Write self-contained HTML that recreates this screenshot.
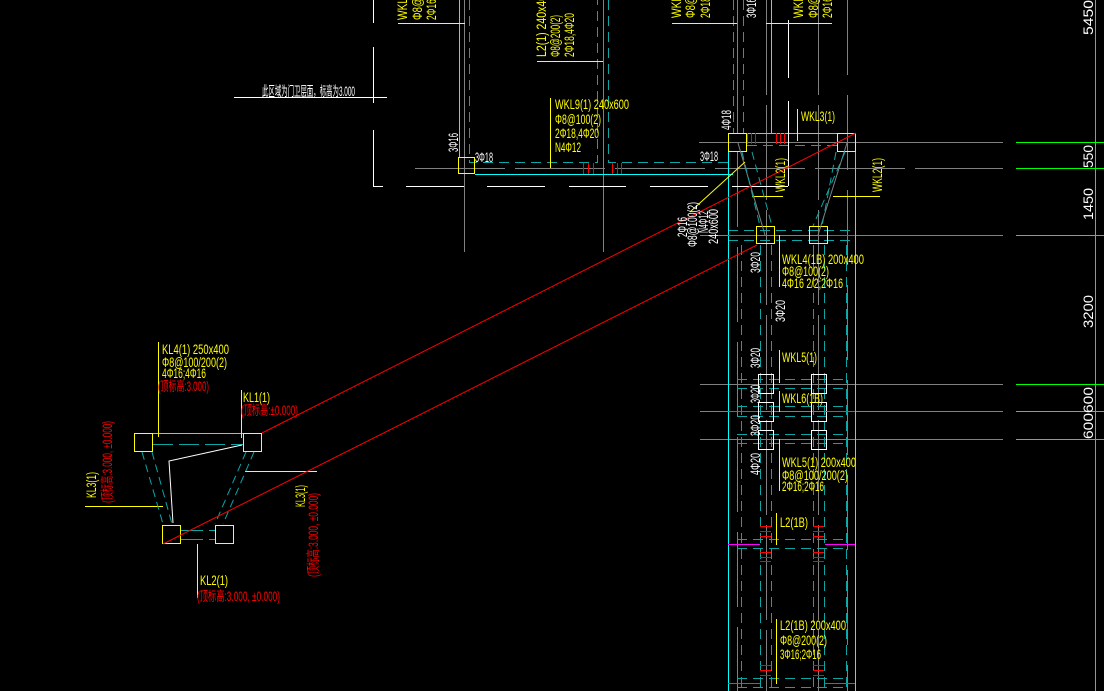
<!DOCTYPE html>
<html><head><meta charset="utf-8">
<style>
html,body{margin:0;padding:0;background:#000;overflow:hidden;}
svg{display:block;}
text{font-family:"Liberation Sans","Noto Sans CJK SC",sans-serif;font-size:13.5px;}
.y{fill:#ffff00}.w{fill:#fff}.r{fill:#ff0000}
</style></head><body>
<svg width="1104" height="691" viewBox="0 0 1104 691" xmlns="http://www.w3.org/2000/svg">
<rect width="1104" height="691" fill="#000"/>
<g fill="none" stroke-width="1" shape-rendering="crispEdges">
<!-- gray lines -->
<g stroke="#808080">
<line x1="464.5" y1="0" x2="464.5" y2="252"/>
<line x1="603.5" y1="0" x2="603.5" y2="252"/>
<line x1="737.5" y1="0" x2="737.5" y2="133"/>
<line x1="766.5" y1="0" x2="766.5" y2="691" stroke-dasharray="95,10"/>
<line x1="818.5" y1="0" x2="818.5" y2="691" stroke-dasharray="95,10"/>
<line x1="737.5" y1="152" x2="737.5" y2="691" stroke-dasharray="75,20"/>
<line x1="847.5" y1="0" x2="847.5" y2="691" stroke-dasharray="75,20"/>
<line x1="699" y1="142.5" x2="1003" y2="142.5"/>
<line x1="415" y1="168.5" x2="1003" y2="168.5" stroke-dasharray="90,10"/>
<line x1="700" y1="235.5" x2="1003" y2="235.5"/>
<line x1="700" y1="384.5" x2="1003" y2="384.5"/>
<line x1="700" y1="411.5" x2="1003" y2="411.5"/>
<line x1="700" y1="439.5" x2="1003" y2="439.5"/>
</g>
<!-- green -->
<g stroke="#00ff00">
<line x1="1095.5" y1="0" x2="1095.5" y2="691"/>
<line x1="1016" y1="142.5" x2="1104" y2="142.5"/>
<line x1="1016" y1="168.5" x2="1104" y2="168.5"/>
<line x1="1016" y1="235.5" x2="1104" y2="235.5"/>
<line x1="1016" y1="384.5" x2="1104" y2="384.5"/>
<line x1="1016" y1="411.5" x2="1104" y2="411.5"/>
<line x1="1016" y1="439.5" x2="1104" y2="439.5"/>
</g>
<!-- teal dashed -->
<g stroke="#0aa6a6" stroke-dasharray="10,6">
<polyline points="469.5,0 469.5,162.5 597.5,162.5 597.5,0"/>
<polyline points="608.5,0 608.5,162.5 728,162.5"/>
<line x1="733.5" y1="0" x2="733.5" y2="133"/>
<line x1="743.5" y1="0" x2="743.5" y2="133"/>
<line x1="747" y1="145.5" x2="837" y2="145.5"/>
<line x1="760.5" y1="245" x2="760.5" y2="691"/>
<line x1="771.5" y1="245" x2="771.5" y2="691"/>
<line x1="813.5" y1="245" x2="813.5" y2="691"/>
<line x1="824.5" y1="245" x2="824.5" y2="691"/>
<line x1="741.5" y1="245" x2="741.5" y2="691"/>
<line x1="846.5" y1="245" x2="846.5" y2="691"/>
<line x1="728" y1="230.5" x2="855" y2="230.5"/>
<line x1="728" y1="240.5" x2="855" y2="240.5"/>
<line x1="737" y1="379.5" x2="846" y2="379.5"/>
<line x1="737" y1="388.5" x2="846" y2="388.5"/>
<line x1="737" y1="406.5" x2="846" y2="406.5"/>
<line x1="737" y1="416.5" x2="846" y2="416.5"/>
<line x1="737" y1="434.5" x2="846" y2="434.5"/>
<line x1="737" y1="443.5" x2="846" y2="443.5"/>
<line x1="737" y1="539.5" x2="846" y2="539.5"/>
<line x1="737" y1="548.5" x2="846" y2="548.5"/>
<line x1="737" y1="678.5" x2="846" y2="678.5"/>
<line x1="737" y1="687.5" x2="846" y2="687.5"/>
<line x1="153" y1="444.5" x2="243" y2="444.5" stroke-dasharray="20,6"/>
<line x1="181" y1="530.5" x2="215" y2="530.5" stroke-dasharray="22,6"/>
<line x1="181" y1="539.5" x2="215" y2="539.5" stroke-dasharray="22,6"/>
</g>
<!-- cyan solid -->
<g stroke="#00ffff">
<line x1="459.5" y1="0" x2="459.5" y2="157"/>
<line x1="475" y1="174.5" x2="733" y2="174.5"/>
<line x1="728.5" y1="133" x2="728.5" y2="691"/>
<line x1="855.5" y1="133" x2="855.5" y2="691"/>
<line x1="728" y1="133.5" x2="856" y2="133.5"/>
<line x1="771.5" y1="0" x2="771.5" y2="133"/>
<line x1="153" y1="433.5" x2="243" y2="433.5"/>
</g>
<!-- white lines -->
<g stroke="#ffffff">
<line x1="373.5" y1="0" x2="373.5" y2="23"/>
<line x1="373.5" y1="47" x2="373.5" y2="103"/>
<line x1="373.5" y1="130" x2="373.5" y2="187"/>
<line x1="373" y1="186.5" x2="383" y2="186.5"/>
<line x1="234" y1="97.5" x2="387" y2="97.5"/>
<line x1="406" y1="186.5" x2="464" y2="186.5"/>
<line x1="487" y1="186.5" x2="545" y2="186.5"/>
<line x1="569" y1="186.5" x2="626" y2="186.5"/>
<line x1="650" y1="186.5" x2="708" y2="186.5"/>
<line x1="732" y1="186.5" x2="788" y2="186.5"/>
<line x1="788.5" y1="20" x2="788.5" y2="78"/>
<line x1="788.5" y1="101" x2="788.5" y2="186"/>
<rect x="758.5" y="374.5" width="15" height="19"/>
<rect x="758.5" y="402.5" width="15" height="19"/>
<rect x="758.5" y="430.5" width="15" height="19"/>
<rect x="811.5" y="374.5" width="15" height="19"/>
<rect x="811.5" y="402.5" width="15" height="19"/>
<rect x="811.5" y="430.5" width="15" height="19"/>
</g>
<!-- magenta -->
<g stroke="#ff00ff">
<line x1="728" y1="235.5" x2="756" y2="235.5"/><line x1="828" y1="235.5" x2="855" y2="235.5"/>
<line x1="728" y1="411.5" x2="758" y2="411.5"/><line x1="826" y1="411.5" x2="855" y2="411.5"/>
<line x1="728" y1="544.5" x2="760" y2="544.5"/><line x1="825" y1="544.5" x2="855" y2="544.5"/>
<line x1="728" y1="683.5" x2="760" y2="683.5"/><line x1="825" y1="683.5" x2="855" y2="683.5"/>
</g>
<!-- red ticks -->
<g stroke="#ff0000">
<line x1="583.5" y1="163" x2="583.5" y2="174"/><line x1="588.5" y1="163" x2="588.5" y2="174"/><line x1="593.5" y1="163" x2="593.5" y2="174"/>
<line x1="612.5" y1="163" x2="612.5" y2="174"/><line x1="617.5" y1="163" x2="617.5" y2="174"/><line x1="621.5" y1="163" x2="621.5" y2="174"/>
<line x1="747.5" y1="133" x2="747.5" y2="144"/><line x1="751.5" y1="133" x2="751.5" y2="144"/><line x1="755.5" y1="133" x2="755.5" y2="144"/>
<line x1="776.5" y1="133" x2="776.5" y2="144"/><line x1="780.5" y1="133" x2="780.5" y2="144"/><line x1="784.5" y1="133" x2="784.5" y2="144"/>
<g id="tk">
<line x1="760" y1="526.5" x2="771" y2="526.5"/><line x1="760" y1="531.5" x2="771" y2="531.5"/><line x1="760" y1="536.5" x2="771" y2="536.5"/>
<line x1="760" y1="552.5" x2="771" y2="552.5"/><line x1="760" y1="557.5" x2="771" y2="557.5"/><line x1="760" y1="561.5" x2="771" y2="561.5"/>
<line x1="760" y1="665.5" x2="771" y2="665.5"/><line x1="760" y1="670.5" x2="771" y2="670.5"/><line x1="760" y1="675.5" x2="771" y2="675.5"/>
</g>
<use href="#tk" x="53"/>
</g>
<!-- yellow lines -->
<g stroke="#ffff00">
<line x1="398" y1="23.5" x2="465" y2="23.5"/>
<line x1="537" y1="61.5" x2="603" y2="61.5"/>
<line x1="550.5" y1="98" x2="550.5" y2="168"/>
<line x1="672" y1="23.5" x2="737" y2="23.5"/>
<line x1="766" y1="23.5" x2="832" y2="23.5"/>
<line x1="797.5" y1="109" x2="797.5" y2="141"/>
<line x1="752" y1="196.5" x2="783" y2="196.5"/>
<line x1="833" y1="196.5" x2="880" y2="196.5"/>
<line x1="779.5" y1="235" x2="779.5" y2="287"/>
<line x1="779.5" y1="350" x2="779.5" y2="383"/>
<line x1="779.5" y1="391" x2="779.5" y2="412"/>
<line x1="779.5" y1="439" x2="779.5" y2="491"/>
<line x1="776.5" y1="513" x2="776.5" y2="545"/>
<line x1="776.5" y1="619" x2="776.5" y2="684"/>
<line x1="158.5" y1="342" x2="158.5" y2="437"/>
<line x1="241.5" y1="390" x2="241.5" y2="438"/>
<line x1="245" y1="471.5" x2="317" y2="471.5"/>
<line x1="85" y1="506.5" x2="163" y2="506.5"/>
<line x1="197.5" y1="544" x2="197.5" y2="598"/>
<rect x="458.5" y="157.5" width="16" height="16"/>
<rect x="728.5" y="133.5" width="18" height="18"/>
<rect x="837.5" y="133.5" width="18" height="18"/>
<rect x="756.5" y="226.5" width="18" height="17"/>
<rect x="809.5" y="226.5" width="18" height="17"/>
<rect x="134.5" y="433.5" width="18" height="18"/>
<rect x="243.5" y="433.5" width="18" height="18"/>
<rect x="162.5" y="525.5" width="18" height="18"/>
<rect x="215.5" y="525.5" width="18" height="18"/>
</g>
</g>
<!-- diagonals -->
<g fill="none" stroke-width="1">
<line x1="738" y1="143" x2="765" y2="235" stroke="#808080"/>
<line x1="847" y1="143" x2="818" y2="235" stroke="#808080"/>
<g stroke="#0aa6a6" stroke-dasharray="8,5">
<line x1="742" y1="152" x2="760" y2="226"/>
<line x1="752" y1="152" x2="772" y2="226"/>
<line x1="845" y1="152" x2="813" y2="226"/>
<line x1="836" y1="152" x2="822" y2="226"/>
<line x1="142" y1="452" x2="163" y2="524"/>
<line x1="152" y1="452" x2="172" y2="524"/>
<line x1="254" y1="452" x2="223" y2="524"/>
<line x1="246" y1="452" x2="215" y2="524"/>
</g>
<polyline points="242,445 169,461 173,523" stroke="#fff"/>
<line x1="690" y1="212" x2="745" y2="162" stroke="#ffff00"/>
<line x1="262" y1="433" x2="856" y2="133" stroke="#ff0000"/>
<line x1="163" y1="544" x2="757" y2="245" stroke="#ff0000"/>
</g>
<!-- horizontal texts -->
<g>
<text class="w" x="262" y="96" font-size="12" textLength="93" lengthAdjust="spacingAndGlyphs">此区域为门卫层面，标高为3.000</text>
<text class="y" x="555" y="109" textLength="74" lengthAdjust="spacingAndGlyphs">WKL9(1) 240x600</text>
<text class="y" x="555" y="124" textLength="46" lengthAdjust="spacingAndGlyphs">Φ8@100(2)</text>
<text class="y" x="555" y="138" textLength="44" lengthAdjust="spacingAndGlyphs">2Φ18,4Φ20</text>
<text class="y" x="555" y="152" textLength="26" lengthAdjust="spacingAndGlyphs">N4Φ12</text>
<text class="w" x="475" y="162" textLength="18" lengthAdjust="spacingAndGlyphs">3Φ18</text>
<text class="w" x="700" y="161" textLength="18" lengthAdjust="spacingAndGlyphs">3Φ18</text>
<text class="y" x="801" y="121" textLength="34" lengthAdjust="spacingAndGlyphs">WKL3(1)</text>
<text class="y" x="782" y="264" textLength="82" lengthAdjust="spacingAndGlyphs">WKL4(1B) 200x400</text>
<text class="y" x="782" y="276" textLength="47" lengthAdjust="spacingAndGlyphs">Φ8@100(2)</text>
<text class="y" x="782" y="288" textLength="61" lengthAdjust="spacingAndGlyphs">4Φ16 2/2;2Φ16</text>
<text class="y" x="782" y="362" textLength="35" lengthAdjust="spacingAndGlyphs">WKL5(1)</text>
<text class="y" x="782" y="403" textLength="41" lengthAdjust="spacingAndGlyphs">WKL6(1B)</text>
<text class="y" x="782" y="467" textLength="74" lengthAdjust="spacingAndGlyphs">WKL5(1) 200x400</text>
<text class="y" x="782" y="480" textLength="66" lengthAdjust="spacingAndGlyphs">Φ8@100/200(2)</text>
<text class="y" x="782" y="491" textLength="42" lengthAdjust="spacingAndGlyphs">2Φ16;2Φ16</text>
<text class="y" x="780" y="527" textLength="28" lengthAdjust="spacingAndGlyphs">L2(1B)</text>
<text class="y" x="780" y="630" textLength="66" lengthAdjust="spacingAndGlyphs">L2(1B) 200x400</text>
<text class="y" x="780" y="645" textLength="47" lengthAdjust="spacingAndGlyphs">Φ8@200(2)</text>
<text class="y" x="780" y="659" textLength="41" lengthAdjust="spacingAndGlyphs">3Φ16;2Φ16</text>
<text class="y" x="162" y="354" textLength="67" lengthAdjust="spacingAndGlyphs">KL4(1) 250x400</text>
<text class="y" x="162" y="367" textLength="65" lengthAdjust="spacingAndGlyphs">Φ8@100/200(2)</text>
<text class="y" x="162" y="378" textLength="44" lengthAdjust="spacingAndGlyphs">4Φ16;4Φ16</text>
<text class="r" x="158" y="391" font-size="12.5" textLength="51" lengthAdjust="spacingAndGlyphs">(顶标高:3.000)</text>
<text class="y" x="243" y="402" textLength="27" lengthAdjust="spacingAndGlyphs">KL1(1)</text>
<text class="r" x="241" y="415" font-size="12.5" textLength="57" lengthAdjust="spacingAndGlyphs">(顶标高:±0.000)</text>
<text class="y" x="200" y="585" textLength="28" lengthAdjust="spacingAndGlyphs">KL2(1)</text>
<text class="r" x="197" y="601" font-size="12.5" textLength="83" lengthAdjust="spacingAndGlyphs">(顶标高:3.000, ±0.000)</text>
</g>
<!-- rotated texts -->
<g>
<text class="w" transform="translate(458,152) rotate(-90)" textLength="19" lengthAdjust="spacingAndGlyphs">3Φ16</text>
<text class="w" transform="translate(731,130) rotate(-90)" textLength="20" lengthAdjust="spacingAndGlyphs">4Φ18</text>
<text class="w" transform="translate(756,18) rotate(-90)" textLength="20" lengthAdjust="spacingAndGlyphs">3Φ16</text>
<text class="w" transform="translate(760,273) rotate(-90)" textLength="21" lengthAdjust="spacingAndGlyphs">3Φ20</text>
<text class="w" transform="translate(785,322) rotate(-90)" textLength="22" lengthAdjust="spacingAndGlyphs">3Φ20</text>
<text class="w" transform="translate(760,368) rotate(-90)" textLength="20" lengthAdjust="spacingAndGlyphs">3Φ20</text>
<text class="w" transform="translate(760,403) rotate(-90)" textLength="18" lengthAdjust="spacingAndGlyphs">3Φ20</text>
<text class="w" transform="translate(760,436) rotate(-90)" textLength="21" lengthAdjust="spacingAndGlyphs">3Φ20</text>
<text class="w" transform="translate(760,475) rotate(-90)" textLength="22" lengthAdjust="spacingAndGlyphs">4Φ20</text>
<text class="w" transform="translate(687,237) rotate(-90)" font-size="12" textLength="20" lengthAdjust="spacingAndGlyphs">2Φ16</text>
<text class="w" transform="translate(697,247) rotate(-90)" font-size="12" textLength="45" lengthAdjust="spacingAndGlyphs">Φ8@100(2)</text>
<text class="w" transform="translate(708,233) rotate(-90)" font-size="12" textLength="22" lengthAdjust="spacingAndGlyphs">N4Φ12</text>
<text class="w" transform="translate(718,244) rotate(-90)" font-size="12" textLength="35" lengthAdjust="spacingAndGlyphs">240x600</text>
<text class="w" transform="translate(1093,35) rotate(-90)" font-size="15" textLength="35" lengthAdjust="spacingAndGlyphs">5450</text>
<text class="w" transform="translate(1093,168) rotate(-90)" font-size="15" textLength="23" lengthAdjust="spacingAndGlyphs">550</text>
<text class="w" transform="translate(1093,220) rotate(-90)" font-size="15" textLength="32" lengthAdjust="spacingAndGlyphs">1450</text>
<text class="w" transform="translate(1093,328) rotate(-90)" font-size="15" textLength="33" lengthAdjust="spacingAndGlyphs">3200</text>
<text class="w" transform="translate(1093,439) rotate(-90)" font-size="15" textLength="52" lengthAdjust="spacingAndGlyphs">600600</text>
<text class="y" transform="translate(407,20) rotate(-90)" textLength="82" lengthAdjust="spacingAndGlyphs">WKL7(1) 240x600</text>
<text class="y" transform="translate(422,20) rotate(-90)" textLength="50" lengthAdjust="spacingAndGlyphs">Φ8@100(2)</text>
<text class="y" transform="translate(436,20) rotate(-90)" textLength="44" lengthAdjust="spacingAndGlyphs">2Φ16,2Φ16</text>
<text class="y" transform="translate(546,57) rotate(-90)" textLength="68" lengthAdjust="spacingAndGlyphs">L2(1) 240x400</text>
<text class="y" transform="translate(560,57) rotate(-90)" textLength="42" lengthAdjust="spacingAndGlyphs">Φ8@200(2)</text>
<text class="y" transform="translate(574,57) rotate(-90)" textLength="44" lengthAdjust="spacingAndGlyphs">2Φ18,4Φ20</text>
<text class="y" transform="translate(681,18) rotate(-90)" textLength="82" lengthAdjust="spacingAndGlyphs">WKL8(1) 240x600</text>
<text class="y" transform="translate(695,18) rotate(-90)" textLength="50" lengthAdjust="spacingAndGlyphs">Φ8@100(2)</text>
<text class="y" transform="translate(710,18) rotate(-90)" textLength="44" lengthAdjust="spacingAndGlyphs">2Φ18,2Φ18</text>
<text class="y" transform="translate(803,18) rotate(-90)" textLength="82" lengthAdjust="spacingAndGlyphs">WKL1(1) 240x600</text>
<text class="y" transform="translate(818,18) rotate(-90)" textLength="50" lengthAdjust="spacingAndGlyphs">Φ8@100(2)</text>
<text class="y" transform="translate(832,18) rotate(-90)" textLength="44" lengthAdjust="spacingAndGlyphs">2Φ16,2Φ16</text>
<text class="y" transform="translate(785,192) rotate(-90)" textLength="34" lengthAdjust="spacingAndGlyphs">WKL2(1)</text>
<text class="y" transform="translate(882,192) rotate(-90)" textLength="34" lengthAdjust="spacingAndGlyphs">WKL2(1)</text>
<text class="y" transform="translate(96,498) rotate(-90)" textLength="26" lengthAdjust="spacingAndGlyphs">KL3(1)</text>
<text class="r" transform="translate(112,503) rotate(-90)" font-size="12.5" textLength="82" lengthAdjust="spacingAndGlyphs">(顶标高:3.000, ±0.000)</text>
<text class="y" transform="translate(305,507) rotate(-90)" textLength="22" lengthAdjust="spacingAndGlyphs">KL3(1)</text>
<text class="r" transform="translate(318,577) rotate(-90)" font-size="12.5" textLength="84" lengthAdjust="spacingAndGlyphs">(顶标高:3.000, ±0.000)</text>
</g>
</svg>
</body></html>
